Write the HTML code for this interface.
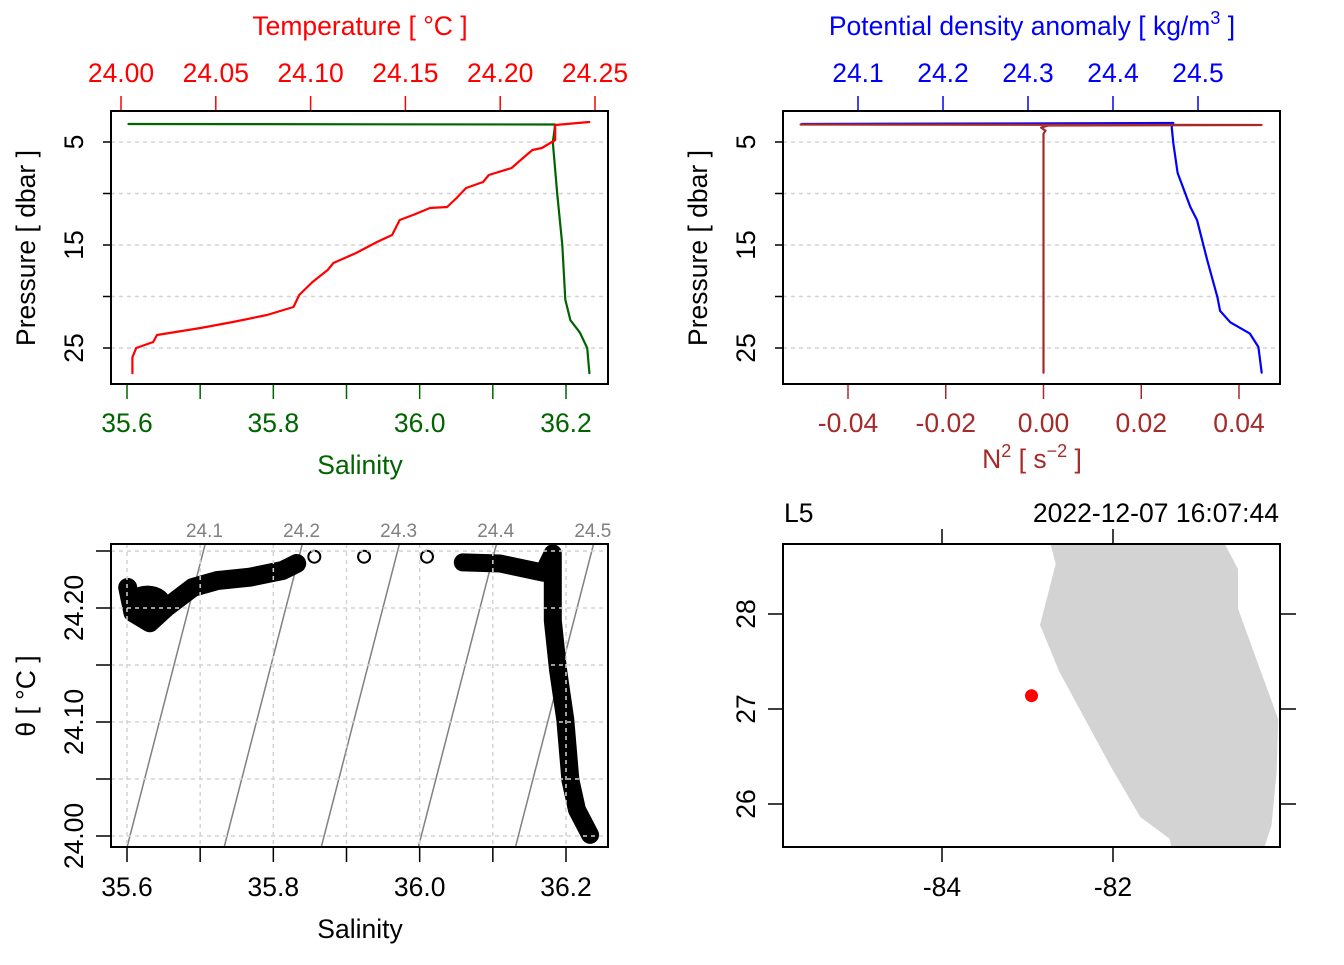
<!DOCTYPE html>
<html><head><meta charset="utf-8"><style>
html,body{margin:0;padding:0;background:#fff}
svg text{font-family:"Liberation Sans",Arial,sans-serif}
</style></head><body>
<svg id="chart" xmlns="http://www.w3.org/2000/svg" width="1344" height="960" viewBox="0 0 1344 960">
<defs>
<clipPath id="c1"><rect x="111" y="111" width="497" height="273"/></clipPath>
<clipPath id="c2"><rect x="783" y="111" width="497" height="273"/></clipPath>
<clipPath id="c3"><rect x="111" y="544" width="497" height="303"/></clipPath>
<clipPath id="c4"><rect x="783" y="544" width="497" height="303"/></clipPath>
</defs>
<g id="root"></g>
</svg>
<script>
// ---- profile data ----
const tempP = [3.06,3.35,4.81,5.58,5.78,6.55,7.52,8.20,8.88,9.47,10.44,11.31,11.41,12.09,12.57,14.03,14.71,15.78,16.75,17.43,18.59,19.85,21.02,21.80,22.48,23.06,23.74,24.42,25.0,25.9,27.45];
const tempV = [24.247,24.229,24.229,24.222,24.217,24.212,24.206,24.194,24.191,24.182,24.177,24.172,24.163,24.154,24.147,24.143,24.135,24.124,24.112,24.109,24.101,24.094,24.091,24.077,24.059,24.042,24.019,24.017,24.008,24.006,24.006];
const salP = [3.25,3.3,4,5,10,15,20.3,22.3,23.5,25,27.45];
const salV = [35.602,36.185,36.184,36.182,36.188,36.195,36.199,36.206,36.219,36.229,36.232];
const sigP = [3.25,3.16,3.54,5.1,8.0,11.3,12.6,16.5,20.1,21.4,22.5,23.6,24.9,27.4];
const sigV = [24.034,24.471,24.469,24.471,24.476,24.491,24.499,24.511,24.523,24.526,24.538,24.561,24.571,24.575];
const n2P = [3.3,3.35,3.4,3.6,3.9,4.2,10,20,27.4];
const n2V = [-0.0497,0.0446,0.001,-0.0005,0.0004,0,0,0,0];
// TS diagram
const tsS1 = [35.601,35.608,35.631,35.655,35.690,35.723,35.768,35.813,35.832];
const tsT1 = [24.218,24.196,24.187,24.201,24.218,24.224,24.227,24.233,24.239];
const tsSo = [35.856,35.924,36.010];
const tsTo = [24.245,24.245,24.245];
const tsS2 = [36.059,36.110,36.169,36.182,36.182,36.189,36.199,36.206,36.215,36.233];
const tsT2 = [24.240,24.239,24.231,24.248,24.189,24.146,24.102,24.049,24.023,24.001];
const isoLevels = [24.1,24.2,24.3,24.4,24.5];
// map
const landLon = [-82.731,-80.692,-80.538,-80.538,-80.067,-80.087,-80.146,-80.228,-81.318,-81.338,-81.681,-82.023,-82.629,-82.749,-82.854,-82.670];
const landLat = [28.737,28.737,28.474,28.057,26.889,26.332,25.774,25.547,25.547,25.635,25.863,26.389,27.395,27.656,27.884,28.527];
const stnLon = [-82.953];
const stnLat = [27.14];
// ticks
const pTicks=[5,10,15,20,25], pLabels=[5,15,25];
const tTicks=[24.00,24.05,24.10,24.15,24.20,24.25];
const sTicks=[35.6,35.7,35.8,35.9,36.0,36.1,36.2], sLabels=[35.6,35.8,36.0,36.2];
const dTicks=[24.1,24.2,24.3,24.4,24.5];
const nTicks=[-0.04,-0.02,0,0.02,0.04], nLabels=["-0.04","-0.02","0.00","0.02","0.04"];
const thTicks=[24.00,24.05,24.10,24.15,24.20,24.25], thLabels=[24.00,24.10,24.20];
const lonTicks=[-84,-82], latTicks=[26,27,28];

const FS=26.5;
const NS="http://www.w3.org/2000/svg";
const root=document.getElementById('root');
function el(tag,attrs,parent,txt){const e=document.createElementNS(NS,tag);for(const k in attrs)e.setAttribute(k,attrs[k]);if(txt!==undefined)e.textContent=txt;(parent||root).appendChild(e);return e;}
function lin(d0,d1,r0,r1){return v=>r0+(v-d0)*(r1-r0)/(d1-d0);}
function txt(x,y,s,size,fill,anchor,rot,name,parent){const a={x:x,y:y,'font-size':size,fill:fill,'text-anchor':anchor||'middle'};if(rot)a.transform='rotate(-90 '+x+' '+y+')';const t=el('text',a,parent,s);return t;}
function grp(name){const g=el('g',{});return g;}
function poly(xs,ys,fx,fy,stroke,w,clip,name,parent){let d='';for(let i=0;i<xs.length;i++)d+=(i?'L':'M')+fx(xs[i]).toFixed(1)+','+fy(ys[i]).toFixed(1);const p=el('path',{d:d,fill:'none',stroke:stroke,'stroke-width':w,'stroke-linejoin':'round','stroke-linecap':'round','clip-path':'url(#'+clip+')'},parent);return p;}
const dash='4,4';

// ===== Panel 1 =====
(function(){
const g=grp('temperature-salinity-profile-panel');
const fy=lin(5,25,142,348), ft=lin(24,24.25,121,595), fs=lin(35.6,36.2,127,566);
pTicks.forEach(p=>{el('line',{x1:111,x2:608,y1:fy(p),y2:fy(p),stroke:'#d3d3d3','stroke-width':1.5,'stroke-dasharray':dash},g);el('line',{x1:103,x2:111,y1:fy(p),y2:fy(p),stroke:'#000','stroke-width':1.5},g);});
pLabels.forEach(p=>txt(83,fy(p),String(p),FS,'#000','middle',true,'pressure-tick-label',g));
txt(35,248,'Pressure [ dbar ]',FS,'#000','middle',true,'y-axis-title-pressure',g);
tTicks.forEach(t=>el('line',{x1:ft(t),x2:ft(t),y1:96,y2:111,stroke:'#f00','stroke-width':1.5},g));
tTicks.forEach(t=>txt(ft(t),82,t.toFixed(2),FS,'#f00','middle',false,'temperature-tick-label',g));
txt(360,35,'Temperature [ °C ]',FS,'#f00','middle',false,'x-axis-title-temperature',g);
sTicks.forEach(s=>el('line',{x1:fs(s),x2:fs(s),y1:384,y2:399,stroke:'#006400','stroke-width':1.5},g));
sLabels.forEach(s=>txt(fs(s),432,s.toFixed(1),FS,'#006400','middle',false,'salinity-tick-label',g));
txt(360,474,'Salinity',FS,'#006400','middle',false,'x-axis-title-salinity',g);
poly(salV,salP,fs,fy,'#006400',2.2,'c1','salinity-profile-line',g);
poly(tempV,tempP,ft,fy,'#f00',2.2,'c1','temperature-profile-line',g);
const b=el('rect',{x:111,y:111,width:497,height:273,fill:'none',stroke:'#000','stroke-width':2},g);
})();

// ===== Panel 2 =====
(function(){
const g=grp('density-n2-profile-panel');
const fy=lin(5,25,142,348), fd=lin(24.1,24.5,858,1198), fn=lin(-0.04,0.04,848,1239);
pTicks.forEach(p=>{el('line',{x1:783,x2:1280,y1:fy(p),y2:fy(p),stroke:'#d3d3d3','stroke-width':1.5,'stroke-dasharray':dash},g);el('line',{x1:775,x2:783,y1:fy(p),y2:fy(p),stroke:'#000','stroke-width':1.5},g);});
pLabels.forEach(p=>txt(755,fy(p),String(p),FS,'#000','middle',true,'pressure-tick-label',g));
txt(707,248,'Pressure [ dbar ]',FS,'#000','middle',true,'y-axis-title-pressure',g);
dTicks.forEach(d=>el('line',{x1:fd(d),x2:fd(d),y1:96,y2:111,stroke:'#00f','stroke-width':1.5},g));
dTicks.forEach(d=>txt(fd(d),82,d.toFixed(1),FS,'#00f','middle',false,'density-tick-label',g));
const t=txt(1032,35,'',FS,'#00f','middle',false,'x-axis-title-density',g);
t.innerHTML='Potential density anomaly [ kg/m<tspan dy="-11" font-size="18">3</tspan><tspan dy="11"> ]</tspan>';
nTicks.forEach(n=>el('line',{x1:fn(n),x2:fn(n),y1:384,y2:399,stroke:'#a52a2a','stroke-width':1.5},g));
nTicks.forEach((n,i)=>txt(fn(n),432,nLabels[i],FS,'#a52a2a','middle',false,'n2-tick-label',g));
const t2=txt(1032,468,'',FS,'#a52a2a','middle',false,'x-axis-title-n2',g);
t2.innerHTML='N<tspan dy="-11" font-size="18">2</tspan><tspan dy="11"> [ s</tspan><tspan dy="-11" font-size="18">−2</tspan><tspan dy="11"> ]</tspan>';
poly(sigV,sigP,fd,fy,'#00f',2.2,'c2','density-profile-line',g);
poly(n2V,n2P,fn,fy,'#a52a2a',2.2,'c2','n2-profile-line',g);
const b=el('rect',{x:783,y:111,width:497,height:273,fill:'none',stroke:'#000','stroke-width':2},g);
})();

// ===== Panel 3: TS =====
(function(){
const g=grp('ts-diagram-panel');
const fs=lin(35.6,36.2,127,566), ft=lin(24.0,24.2,836,608);
isoLevels.forEach(lv=>{
  const Sat=T=>35.6+((lv-24.1)+0.3027*(T-23.990))/0.7536;
  const Tt=24.257;
  const l=el('line',{x1:fs(Sat(23.990)),y1:ft(23.990),x2:fs(Sat(Tt)),y2:ft(Tt),stroke:'#808080','stroke-width':1.5,'clip-path':'url(#c3)'},g);
  
  txt(fs(Sat(Tt))-1,537,lv.toFixed(1),19,'#808080','middle',false,'isopycnal-label',g);
});
poly(tsS1,tsT1,fs,ft,'#000',19,'c3','ts-curve-surface',g);
poly(tsS2,tsT2,fs,ft,'#000',18,'c3','ts-curve-deep',g);
const blob=el('ellipse',{cx:fs(35.628),cy:ft(24.203),rx:24,ry:19,fill:'#000','clip-path':'url(#c3)'},g);
tsSo.forEach((s,i)=>{const c=el('circle',{cx:fs(s),cy:ft(tsTo[i]),r:6,fill:'none',stroke:'#000','stroke-width':2},g);});
sTicks.forEach(s=>el('line',{x1:fs(s),x2:fs(s),y1:544,y2:847,stroke:'#d3d3d3','stroke-width':1.5,'stroke-dasharray':dash},g));
thTicks.forEach(t=>el('line',{x1:111,x2:608,y1:ft(t),y2:ft(t),stroke:'#d3d3d3','stroke-width':1.5,'stroke-dasharray':dash},g));
sTicks.forEach(s=>el('line',{x1:fs(s),x2:fs(s),y1:847,y2:862,stroke:'#000','stroke-width':1.5},g));
sLabels.forEach(s=>txt(fs(s),896,s.toFixed(1),FS,'#000','middle',false,'salinity-tick-label',g));
txt(360,938,'Salinity',FS,'#000','middle',false,'x-axis-title-salinity',g);
thTicks.forEach(t=>el('line',{x1:96,x2:111,y1:ft(t),y2:ft(t),stroke:'#000','stroke-width':1.5},g));
thLabels.forEach(t=>txt(83,ft(t),t.toFixed(2),FS,'#000','middle',true,'theta-tick-label',g));
txt(35,696,'θ [ °C ]',FS,'#000','middle',true,'y-axis-title-theta',g);
const b=el('rect',{x:111,y:544,width:497,height:303,fill:'none',stroke:'#000','stroke-width':2},g);
})();

// ===== Panel 4: map =====
(function(){
const g=grp('station-map-panel');
const fx=lin(-84,-82,942,1113), fy=lin(27,28,709,614);
let d='';landLon.forEach((lo,i)=>{d+=(i?'L':'M')+fx(lo).toFixed(1)+','+fy(landLat[i]).toFixed(1);});d+='Z';
const land=el('path',{d:d,fill:'#d3d3d3',stroke:'none','clip-path':'url(#c4)'},g);
stnLon.forEach((lo,i)=>{const c=el('circle',{cx:fx(lo),cy:fy(stnLat[i]),r:6.5,fill:'#f00'},g);});
lonTicks.forEach(l=>{el('line',{x1:fx(l),x2:fx(l),y1:847,y2:862,stroke:'#000','stroke-width':1.5},g);el('line',{x1:fx(l),x2:fx(l),y1:529,y2:544,stroke:'#000','stroke-width':1.5},g);txt(fx(l),896,String(l),FS,'#000','middle',false,'longitude-tick-label',g);});
latTicks.forEach(l=>{el('line',{x1:768,x2:783,y1:fy(l),y2:fy(l),stroke:'#000','stroke-width':1.5},g);el('line',{x1:1280,x2:1296,y1:fy(l),y2:fy(l),stroke:'#000','stroke-width':1.5},g);txt(755,fy(l),String(l),FS,'#000','middle',true,'latitude-tick-label',g);});
txt(784,522,'L5',FS,'#000','start',false,'station-name',g);
txt(1279,522,'2022-12-07 16:07:44',FS,'#000','end',false,'station-time',g);
const b=el('rect',{x:783,y:544,width:497,height:303,fill:'none',stroke:'#000','stroke-width':2},g);
})();
</script>
</body></html>
